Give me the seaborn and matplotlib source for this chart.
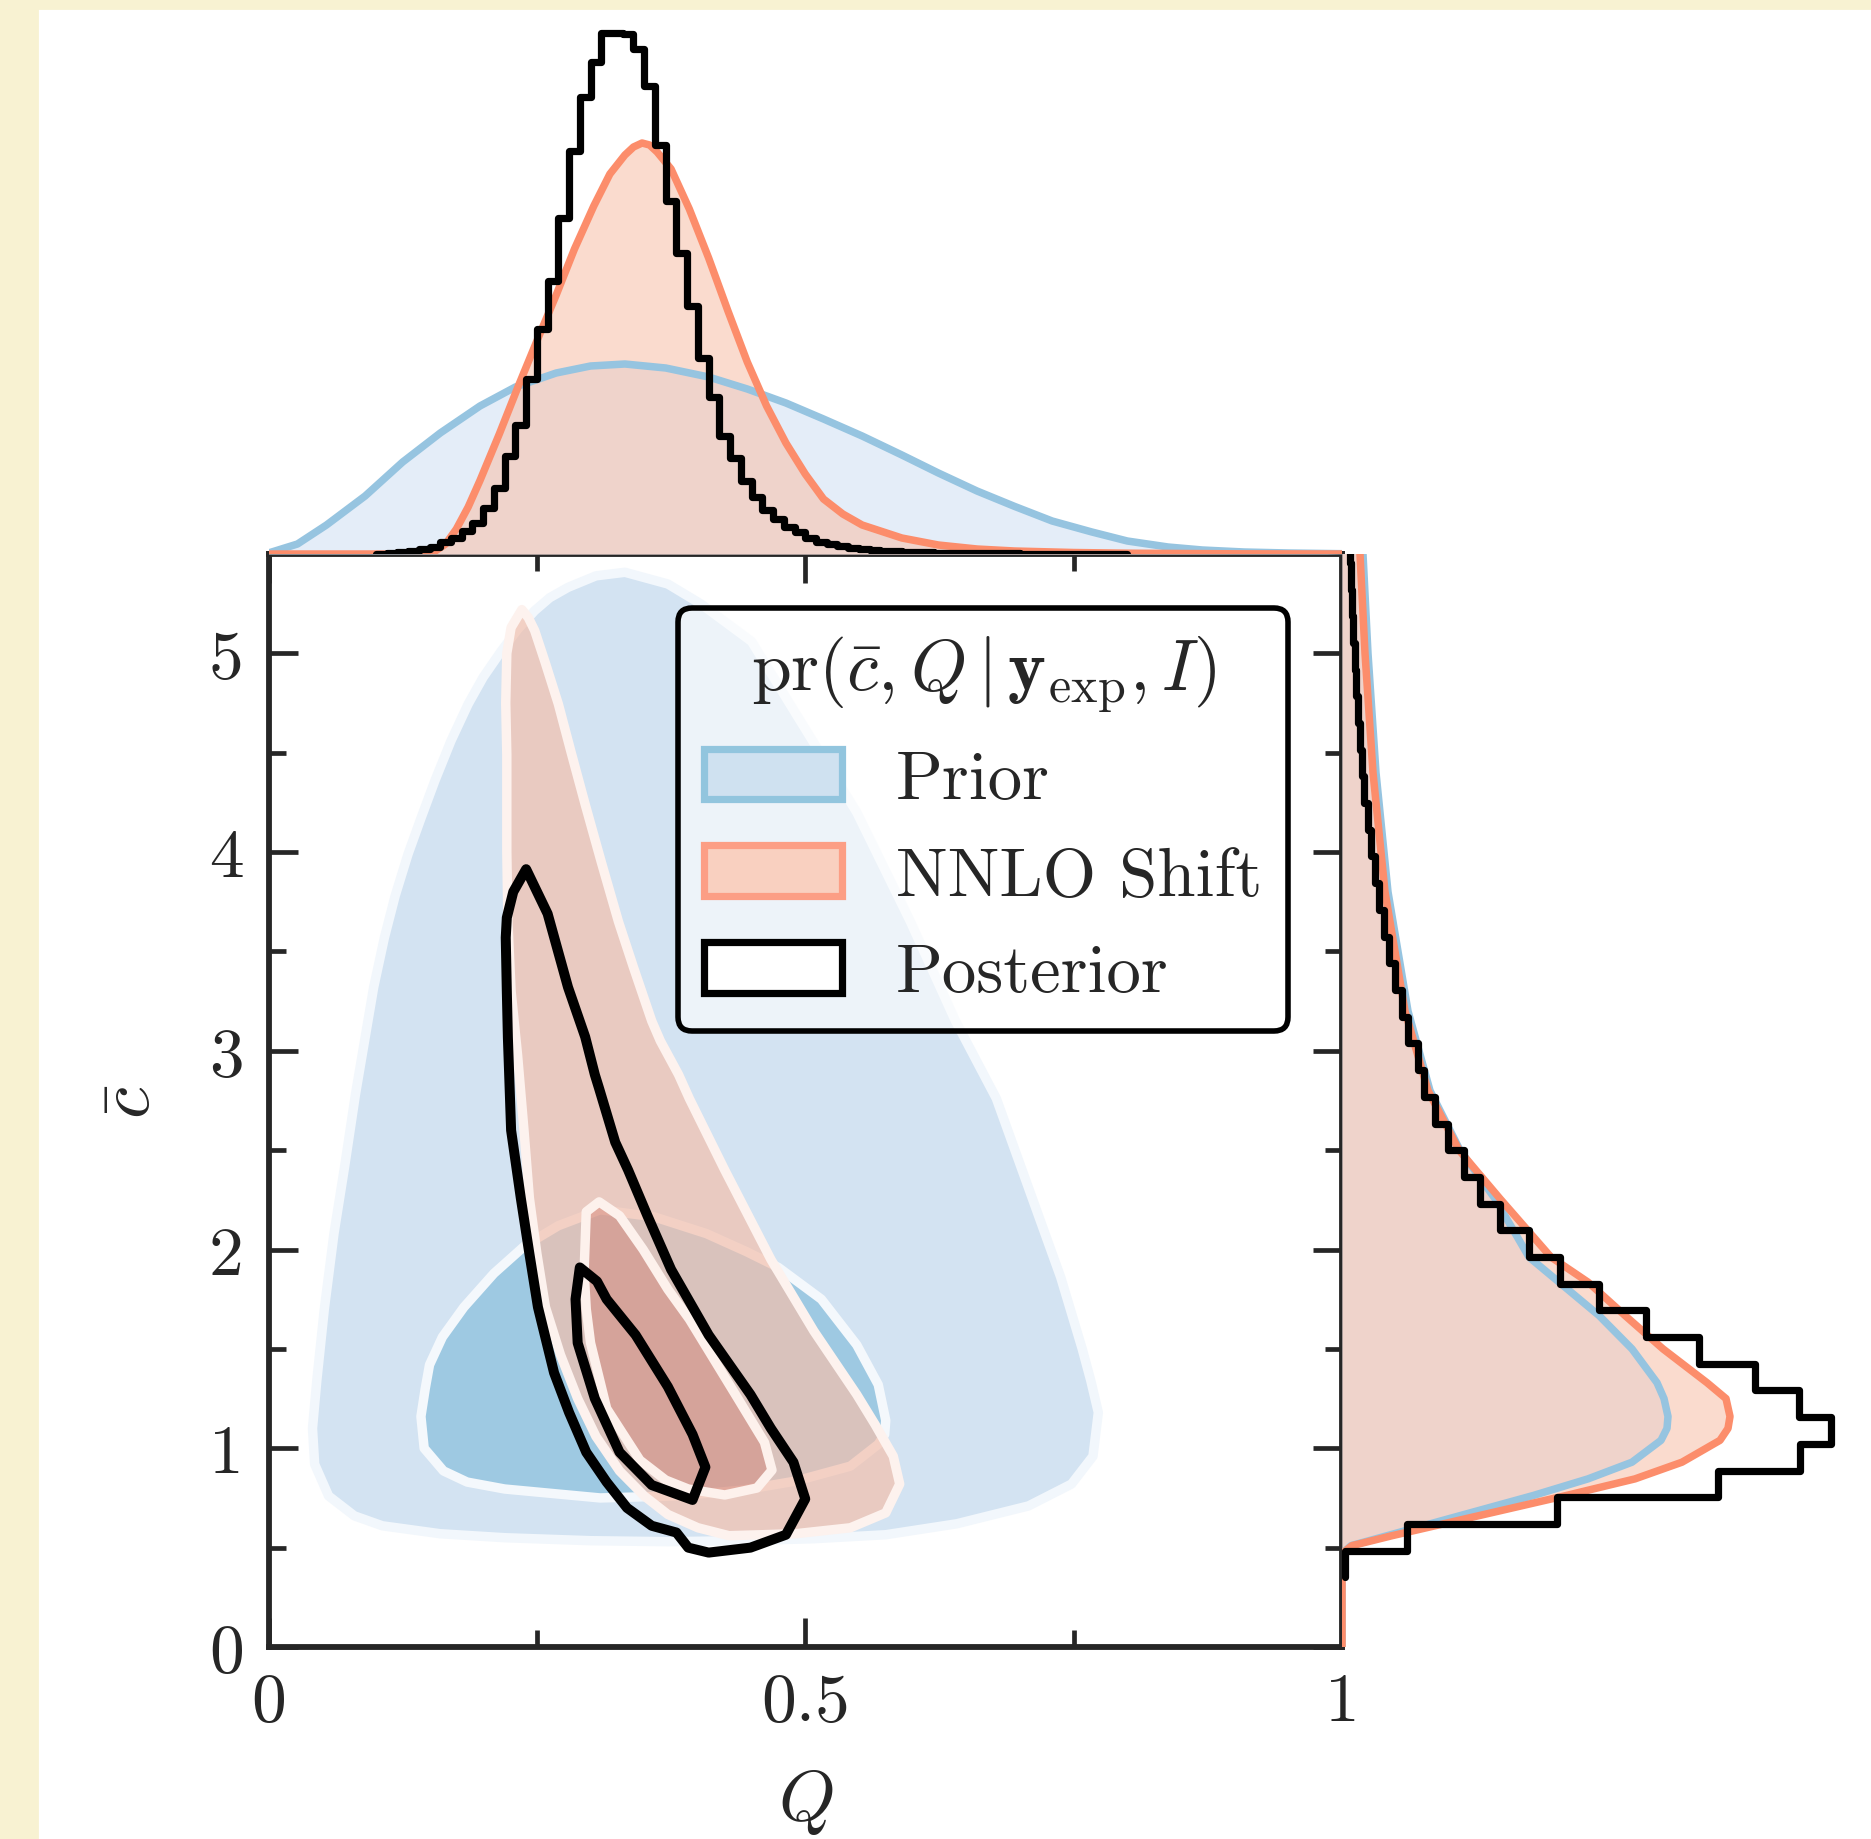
import numpy as np
import pandas as pd
import matplotlib
matplotlib.use("Agg")
import matplotlib.pyplot as plt
import seaborn as sns
from matplotlib.patches import Patch, Rectangle

# ---------------- data ----------------
# 2D credible regions (Q, cbar) boundaries
prior_outer_Q = [0.332, 0.305, 0.279, 0.262, 0.248, 0.232, 0.217, 0.20, 0.186, 0.17, 0.155, 0.142, 0.130, 0.118,
                 0.108, 0.098, 0.090, 0.081, 0.071, 0.061, 0.052, 0.045, 0.041, 0.043, 0.056, 0.08, 0.106, 0.16,
                 0.22, 0.30, 0.372, 0.44, 0.508, 0.575, 0.641, 0.708, 0.748, 0.768, 0.773, 0.766, 0.758, 0.738,
                 0.708, 0.678, 0.640, 0.598, 0.548, 0.484, 0.45, 0.403, 0.372]
prior_outer_c = [5.408, 5.39, 5.332, 5.28, 5.215, 5.12, 5.013, 4.88, 4.745, 4.56, 4.359, 4.17, 3.99, 3.78,
                 3.57, 3.32, 3.066, 2.78, 2.42, 2.08, 1.70, 1.34, 1.10, 0.92, 0.76, 0.66, 0.61, 0.57,
                 0.55, 0.535, 0.53, 0.535, 0.545, 0.565, 0.62, 0.71, 0.82, 0.96, 1.18, 1.34, 1.50, 1.86,
                 2.31, 2.76, 3.15, 3.65, 4.20, 4.76, 5.06, 5.248, 5.349]

prior_inner_Q = [0.142, 0.146, 0.150, 0.162, 0.182, 0.21, 0.239, 0.27, 0.309, 0.359, 0.408, 0.445, 0.475, 0.515,
                 0.548, 0.568, 0.575, 0.574, 0.568, 0.542, 0.491, 0.442, 0.38, 0.309, 0.22, 0.185, 0.163, 0.145]
prior_inner_c = [1.16, 1.30, 1.42, 1.56, 1.71, 1.88, 2.02, 2.12, 2.20, 2.165, 2.08, 1.99, 1.91, 1.75,
                 1.52, 1.32, 1.14, 1.07, 1.02, 0.91, 0.835, 0.79, 0.76, 0.75, 0.795, 0.83, 0.886, 1.0]

shift_outer_Q = [0.236, 0.226, 0.222, 0.221, 0.222, 0.222, 0.223, 0.226, 0.232, 0.238, 0.243, 0.25, 0.258, 0.272,
                 0.288, 0.305, 0.327, 0.35, 0.372, 0.40, 0.429, 0.491, 0.542, 0.575, 0.588, 0.582, 0.565, 0.548,
                 0.508, 0.468, 0.425, 0.392, 0.382, 0.365, 0.357, 0.340, 0.326, 0.310, 0.295, 0.282, 0.270,
                 0.258, 0.248, 0.242]
shift_outer_c = [5.22, 5.13, 5.0, 4.75, 4.49, 4.0, 3.65, 3.3, 2.98, 2.6, 2.26, 1.98, 1.71, 1.47,
                 1.25, 1.06, 0.886, 0.76, 0.667, 0.60, 0.56, 0.57, 0.60, 0.675, 0.82, 0.96, 1.12, 1.27,
                 1.59, 1.95, 2.40, 2.76, 2.88, 3.05, 3.15, 3.42, 3.65, 3.95, 4.24, 4.50, 4.745,
                 4.95, 5.114, 5.18]

shift_inner_Q = [0.308, 0.296, 0.294, 0.296, 0.30, 0.315, 0.346, 0.37, 0.391, 0.425, 0.455, 0.469, 0.462, 0.435,
                 0.392, 0.372, 0.349, 0.327]
shift_inner_c = [2.24, 2.19, 1.89, 1.70, 1.53, 1.20, 0.94, 0.84, 0.795, 0.765, 0.80, 0.89, 1.03, 1.27,
                 1.65, 1.80, 2.00, 2.17]

post_outer_Q = [0.240, 0.228, 0.222, 0.221, 0.222, 0.223, 0.226, 0.235, 0.243, 0.251, 0.266, 0.28, 0.296, 0.315,
                0.334, 0.357, 0.38, 0.391, 0.41, 0.449, 0.482, 0.50, 0.489, 0.468, 0.449, 0.41, 0.375, 0.353,
                0.335, 0.323, 0.308, 0.304, 0.295, 0.279, 0.26]
post_outer_c = [3.914, 3.80, 3.67, 3.57, 3.30, 3.066, 2.60, 2.26, 1.98, 1.71, 1.38, 1.18, 0.98, 0.83,
                0.70, 0.61, 0.576, 0.50, 0.475, 0.50, 0.565, 0.745, 0.93, 1.10, 1.27, 1.57, 1.90, 2.17,
                2.40, 2.54, 2.81, 2.88, 3.07, 3.32, 3.69]

post_inner_Q = [0.29, 0.306, 0.315, 0.342, 0.372, 0.395, 0.407, 0.395, 0.357, 0.327, 0.304, 0.288, 0.286]
post_inner_c = [1.91, 1.84, 1.75, 1.57, 1.31, 1.07, 0.905, 0.74, 0.815, 0.98, 1.25, 1.53, 1.75]

# marginal of Q (top panel)
prior_Q = [0.0, 0.027, 0.054, 0.09, 0.125, 0.16, 0.197, 0.23, 0.268, 0.30, 0.332, 0.37, 0.41, 0.446, 0.482,
           0.517, 0.553, 0.59, 0.624, 0.66, 0.695, 0.73, 0.767, 0.80, 0.838, 0.87, 0.909, 0.95, 1.0]
prior_Q_dens = [1, 10, 29, 58, 92, 121, 148, 167, 181, 188, 190, 186, 177, 165, 151,
                135, 118, 99, 81, 63, 47.6, 33, 22, 13, 7, 4, 2, 1, 0.3]
shift_Q = [0.0, 0.12, 0.14, 0.154, 0.165, 0.175, 0.186, 0.197, 0.215, 0.232, 0.25, 0.268, 0.285, 0.303, 0.318,
           0.332, 0.34, 0.348, 0.355, 0.362, 0.375, 0.392, 0.41, 0.428, 0.446, 0.464, 0.482, 0.50, 0.517, 0.535,
           0.553, 0.59, 0.624, 0.66, 0.695, 0.75, 0.8, 0.9, 1.0]
shift_Q_dens = [0, 0, 0.3, 2, 10, 25, 47, 73.5, 120, 166, 213, 259, 305, 348, 380,
                399, 407, 411, 409, 402, 385, 345, 296, 243, 192, 148, 111, 80, 55, 40,
                29, 16, 9, 5, 3, 1.5, 0.8, 0.2, 0]
post_Q_edges = [round(0.10 + 0.01 * i, 2) for i in range(0, 71)]
post_Q_hist = [0.5, 1, 2, 3, 5, 7, 12.4, 16, 23.5, 31, 46, 66, 98, 129, 175, 225, 273.5, 336.5, 403, 457,
               492, 521, 521, 520, 505, 468, 409, 353, 301, 248, 196, 157, 118, 96, 73.5, 57, 44, 35, 27, 22,
               16, 12.4, 10, 7.6, 6, 5, 4, 3.5, 3, 2.5, 2, 1.8, 1.5, 1.3, 1.1, 1, 0.9, 0.8, 0.7, 0.6,
               0.5, 0.5, 0.4, 0.4, 0.3, 0.3, 0.2, 0.2, 0.2, 0.1]

# marginal of cbar (right panel)
prior_c = [0.0, 0.47, 0.51, 0.56, 0.661, 0.762, 0.846, 0.93, 1.04, 1.10, 1.16, 1.25, 1.33, 1.50, 1.668,
           1.836, 1.962, 2.256, 2.5, 2.8, 3.2, 3.8, 4.4, 5.0, 5.6]
prior_c_dens = [0, 0, 9, 45, 118, 191, 246, 290, 319, 325, 326, 322, 315, 290, 257,
                217, 187, 153, 118, 88, 66, 46, 34, 26, 20]
shift_c_dens = [0, 0, 10, 50, 137, 224, 293, 340, 378, 386, 388, 384, 365, 321, 283,
                246, 209, 158, 117, 86, 63, 43, 31, 23, 17]
post_c_edges = [0.351, 0.485, 0.619, 0.754, 0.888, 1.022, 1.157, 1.291, 1.425, 1.560, 1.694, 1.828, 1.963,
                2.097, 2.231, 2.366, 2.500, 2.634, 2.769, 2.903, 3.037, 3.172, 3.306, 3.440, 3.575, 3.709,
                3.843, 3.978, 4.112, 4.246, 4.381, 4.515, 4.649, 4.784, 4.918, 5.052, 5.187, 5.321, 5.455, 5.590]
post_c_hist = [3, 65, 214.7, 376, 457.6, 489, 457, 413, 356.8, 304, 256.6, 218, 186.7, 157.6, 138, 122, 106,
               93, 82, 76, 66, 60, 53, 47, 42, 37, 33, 29, 26, 22, 20, 18, 15.5, 14, 12.5, 11, 10, 9, 8]

x_ticks = [0, 0.5, 1]
x_ticklabels = ["0", "0.5", "1"]
y_ticks = [0, 1, 2, 3, 4, 5]
y_ticklabels = ["0", "1", "2", "3", "4", "5"]
legend_labels = ["Prior", "NNLO Shift", "Posterior"]
legend_title = r"$\mathrm{pr}(\bar{c}, Q\,|\,\mathbf{y}_{\mathrm{exp}}, I)$"

# ---------------- style ----------------
sns.set_style("ticks")
plt.rcParams["font.family"] = ["cmr10", "DejaVu Serif"]
plt.rcParams["mathtext.fontset"] = "cm"
plt.rcParams["axes.formatter.use_mathtext"] = True
plt.rcParams["axes.unicode_minus"] = False

BLUE_LINE = "#96c4e0"
RED_LINE = "#fc8d6b"
LW_MARG = 2.7

fig = plt.figure(figsize=(1871 / 200, 1840 / 200), dpi=200, facecolor="white")
# paper-coloured border on the left and top
fig.patches.append(Rectangle((0, 0), 37 / 1871, 1, transform=fig.transFigure, color="#f8f2d2", zorder=-10))
fig.patches.append(Rectangle((0, 1 - 9 / 1840), 1, 9 / 1840, transform=fig.transFigure, color="#f8f2d2", zorder=-10))

L, B, W, H = 268.5 / 1871, 1 - 1648 / 1840, 1073.5 / 1871, 1093 / 1840
ax = fig.add_axes([L, B, W, H])
ax_top = fig.add_axes([L, B + H, W, (1648 - 1093 - 9) / 1840])
ax_right = fig.add_axes([L + W, B, 1 - L - W, H])

# ---------------- main joint panel ----------------
kw = dict(joinstyle="round")
ax.fill(prior_outer_Q, prior_outer_c, facecolor="#d3e3f2", edgecolor="#f2f7fc", lw=3.4, zorder=1, **kw)
ax.fill(prior_inner_Q, prior_inner_c, facecolor="#9ec9e2", edgecolor="#f4f8fc", lw=3.4, zorder=2, **kw)
ax.fill(shift_outer_Q, shift_outer_c, facecolor=(243 / 255, 192 / 255, 173 / 255), alpha=0.7, lw=0, zorder=3)
ax.fill(shift_outer_Q, shift_outer_c, facecolor="none", edgecolor="#fdf2ee", lw=3.4, zorder=3.5, **kw)
ax.fill(shift_inner_Q, shift_inner_c, facecolor=(210 / 255, 133 / 255, 121 / 255), alpha=0.5, lw=0, zorder=4)
ax.fill(shift_inner_Q, shift_inner_c, facecolor="none", edgecolor="#fdf1ec", lw=3.4, zorder=4.5, **kw)
ax.fill(post_outer_Q, post_outer_c, facecolor="none", edgecolor="black", lw=3.6, zorder=6, **kw)
ax.fill(post_inner_Q, post_inner_c, facecolor="none", edgecolor="black", lw=3.6, zorder=6, **kw)

ax.set_xlim(0, 1)
ax.set_ylim(0, 5.5)
ax.set_xticks(x_ticks)
ax.set_xticklabels(x_ticklabels)
ax.set_xticks([0.25, 0.75], minor=True)
ax.set_yticks(y_ticks)
ax.set_yticklabels(y_ticklabels)
ax.set_yticks(np.arange(0.5, 5.5, 1.0), minor=True)
ax.tick_params(which="both", direction="in", top=True, right=True, width=1.7, labelsize=25, pad=9)
ax.tick_params(which="major", length=10.5)
ax.tick_params(which="minor", length=6)
for s in ax.spines.values():
    s.set_linewidth(2.1)
    s.set_zorder(10)
ax.set_xlabel(r"$Q$", fontsize=26, labelpad=12)
ax.set_ylabel(r"$\bar{c}$", fontsize=26, labelpad=16)

handles = [
    Patch(facecolor="#cfe1f0", edgecolor="#92c5de", lw=2.6, label=legend_labels[0]),
    Patch(facecolor="#f9d0c0", edgecolor="#fc9e85", lw=2.6, label=legend_labels[1]),
    Patch(facecolor="white", edgecolor="black", lw=2.6, label=legend_labels[2]),
]
leg = ax.legend(handles=handles, title=legend_title, loc="upper right", fontsize=24.8, title_fontsize=25.8,
                frameon=True, fancybox=True, handlelength=2.0, handleheight=0.75, labelspacing=0.5,
                handletextpad=0.78, borderpad=0.38, borderaxespad=0.78)
fr = leg.get_frame()
fr.set_alpha(None)
fr.set_facecolor((1, 1, 1, 0.6))
fr.set_edgecolor("black")
fr.set_linewidth(2.0)
leg.set_zorder(20)

# ---------------- top marginal ----------------
ax_top.fill_between(prior_Q, prior_Q_dens, color="#e4edf8", lw=0, zorder=1)
ax_top.fill_between(shift_Q, shift_Q_dens, color=(248 / 255, 193 / 255, 172 / 255), alpha=0.58, lw=0, zorder=2)
sns.lineplot(x=prior_Q, y=prior_Q_dens, ax=ax_top, color=BLUE_LINE, lw=LW_MARG, zorder=3)
sns.lineplot(x=shift_Q, y=shift_Q_dens, ax=ax_top, color=RED_LINE, lw=LW_MARG, zorder=4)
q_edges = list(post_Q_edges)
q_df = pd.DataFrame({"Q": [0.5 * (a + b) for a, b in zip(q_edges[:-1], q_edges[1:])], "w": post_Q_hist})
sns.histplot(data=q_df, x="Q", weights="w", bins=q_edges, element="step", fill=False,
             color="black", lw=2.6, ax=ax_top, zorder=5)
ax_top.set_xlim(0, 1)
ax_top.set_ylim(0, 546)
ax_top.axis("off")

# ---------------- right marginal ----------------
ax_right.fill_betweenx(prior_c, prior_c_dens, color="#e4edf8", lw=0, zorder=1)
ax_right.fill_betweenx(prior_c, shift_c_dens, color=(248 / 255, 193 / 255, 172 / 255), alpha=0.58, lw=0, zorder=2)
sns.lineplot(x=prior_c_dens, y=prior_c, ax=ax_right, orient="y", color=BLUE_LINE, lw=LW_MARG, zorder=3)
sns.lineplot(x=shift_c_dens, y=prior_c, ax=ax_right, orient="y", color=RED_LINE, lw=LW_MARG, zorder=4)
c_edges = list(post_c_edges)
c_df = pd.DataFrame({"c": [0.5 * (a + b) for a, b in zip(c_edges[:-1], c_edges[1:])], "w": post_c_hist})
sns.histplot(data=c_df, y="c", weights="w", bins=c_edges, element="step", fill=False,
             color="black", lw=2.6, ax=ax_right, zorder=5)
ax_right.set_ylim(0, 5.5)
ax_right.set_xlim(0, 529)
ax_right.axis("off")

fig.savefig("out.png", dpi=200, facecolor="white")
